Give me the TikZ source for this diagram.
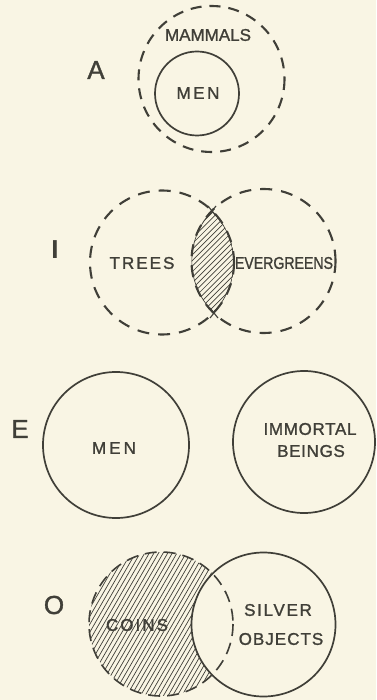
\documentclass[tikz,border=0pt]{standalone}
\usepackage{fontspec}
\setmainfont{Liberation Sans}
\newfontfamily\labfont[FakeBold=1.3]{Liberation Sans}
\definecolor{paper}{RGB}{249,245,228}
\definecolor{ink}{RGB}{64,63,56}
\begin{document}
\begin{tikzpicture}[x=1pt,y=-1pt,
  lab/.style={text=ink,inner sep=0pt,font=\labfont\fontsize{17}{19}\selectfont},
  big/.style={text=ink,inner sep=0pt,font=\labfont\fontsize{26}{28}\selectfont},
  dashcirc/.style={draw=ink,line width=2.1pt,dash pattern=on 11pt off 8pt},
  solidcirc/.style={draw=ink,line width=1.7pt},
  hatchline/.style={draw=ink,line width=0.7pt}]
\fill[paper] (0,0) rectangle (376,700);
\useasboundingbox (0,0) rectangle (376,700);

% ---------- A ----------
\coordinate (aout) at (211.5,79);
\coordinate (ain) at (197,93.5);
\draw[dashcirc] (aout) circle (73);
\draw[solidcirc] (ain) circle (42);
\node[big] (labA) at (96,70) {A};
\node[lab] (mammals) at (208,35) {MAMMALS};
\node[lab,font=\labfont\fontsize{17}{19}\selectfont\addfontfeatures{LetterSpace=15}] (menA) at (198,93) {MEN};

% ---------- I ----------
\coordinate (itrees) at (162,262.5);
\coordinate (iever) at (263.5,261);
\begin{scope}
  \clip (itrees) circle (72);
  \clip (iever) circle (72);
  \foreach \k in {0,...,45} {
    \draw[hatchline] (40+5.6*\k,340) -- ++(170,-170);
  }
  \draw[ink,line width=1.3pt] (itrees) circle (72);
  \draw[ink,line width=1.3pt] (iever) circle (72);
\end{scope}
\draw[dashcirc,dash pattern=on 12pt off 9pt] (itrees) circle (72);
\draw[dashcirc,dash pattern=on 12pt off 9pt] (iever) circle (72);
\coordinate (xtop) at (212,211);
\coordinate (xbot) at (214,313);
\draw[ink,line width=1.1pt] ([shift={(-4,-5)}]xtop) -- ([shift={(4,5)}]xtop);
\draw[ink,line width=1.1pt] ([shift={(4,-5)}]xtop) -- ([shift={(-4,5)}]xtop);
\draw[ink,line width=1.1pt] ([shift={(-4,-5)}]xbot) -- ([shift={(4,5)}]xbot);
\draw[ink,line width=1.1pt] ([shift={(4,-5)}]xbot) -- ([shift={(-4,5)}]xbot);
\node[big,font=\fontsize{26}{28}\selectfont\bfseries] (labI) at (55,250) {I};
\node[lab,font=\labfont\fontsize{17}{19}\selectfont\addfontfeatures{LetterSpace=12}] (trees) at (142,263) {TREES};
\node[lab,font=\labfont\fontsize{17}{19}\selectfont\addfontfeatures{FakeStretch=0.83}] (ever) at (284,263) {EVERGREENS};

% ---------- E ----------
\coordinate (emen) at (116,445);
\coordinate (eimm) at (304,442);
\draw[solidcirc] (emen) circle (73);
\draw[solidcirc] (eimm) circle (71);
\node[big] (labE) at (20,429) {E};
\node[lab,font=\labfont\fontsize{17}{19}\selectfont\addfontfeatures{LetterSpace=18}] (menE) at (114,448) {MEN};
\node[lab,font=\labfont\fontsize{17}{19}\selectfont\addfontfeatures{LetterSpace=4}] (immortal) at (310,429) {IMMORTAL};
\node[lab,font=\labfont\fontsize{17}{19}\selectfont\addfontfeatures{LetterSpace=4}] (beings) at (311,451) {BEINGS};

% ---------- O ----------
\coordinate (ocoin) at (161,624);
\coordinate (osilv) at (263.5,624.5);
\begin{scope}
  \clip (ocoin) circle (72);
  \begin{scope}[even odd rule]
    \clip (0,500) rectangle (376,700) (osilv) circle (72);
    \foreach \k in {0,...,60} {
      \draw[hatchline] (0+4.6*\k,700) -- ++(100,-173);
    }
  \end{scope}
\end{scope}
\draw[dashcirc,line width=1.6pt,dash pattern=on 12pt off 7pt] (ocoin) circle (72);
\draw[solidcirc] (osilv) circle (72);
\node[big] (labO) at (54,605) {O};
\node[lab,font=\labfont\fontsize{17}{19}\selectfont\addfontfeatures{LetterSpace=12}] (coins) at (137,625) {COINS};
\node[lab,font=\labfont\fontsize{17}{19}\selectfont\addfontfeatures{LetterSpace=10}] (silver) at (278,610) {SILVER};
\node[lab,font=\labfont\fontsize{17}{19}\selectfont\addfontfeatures{LetterSpace=6}] (objects) at (281,639) {OBJECTS};
\end{tikzpicture}
\end{document}
